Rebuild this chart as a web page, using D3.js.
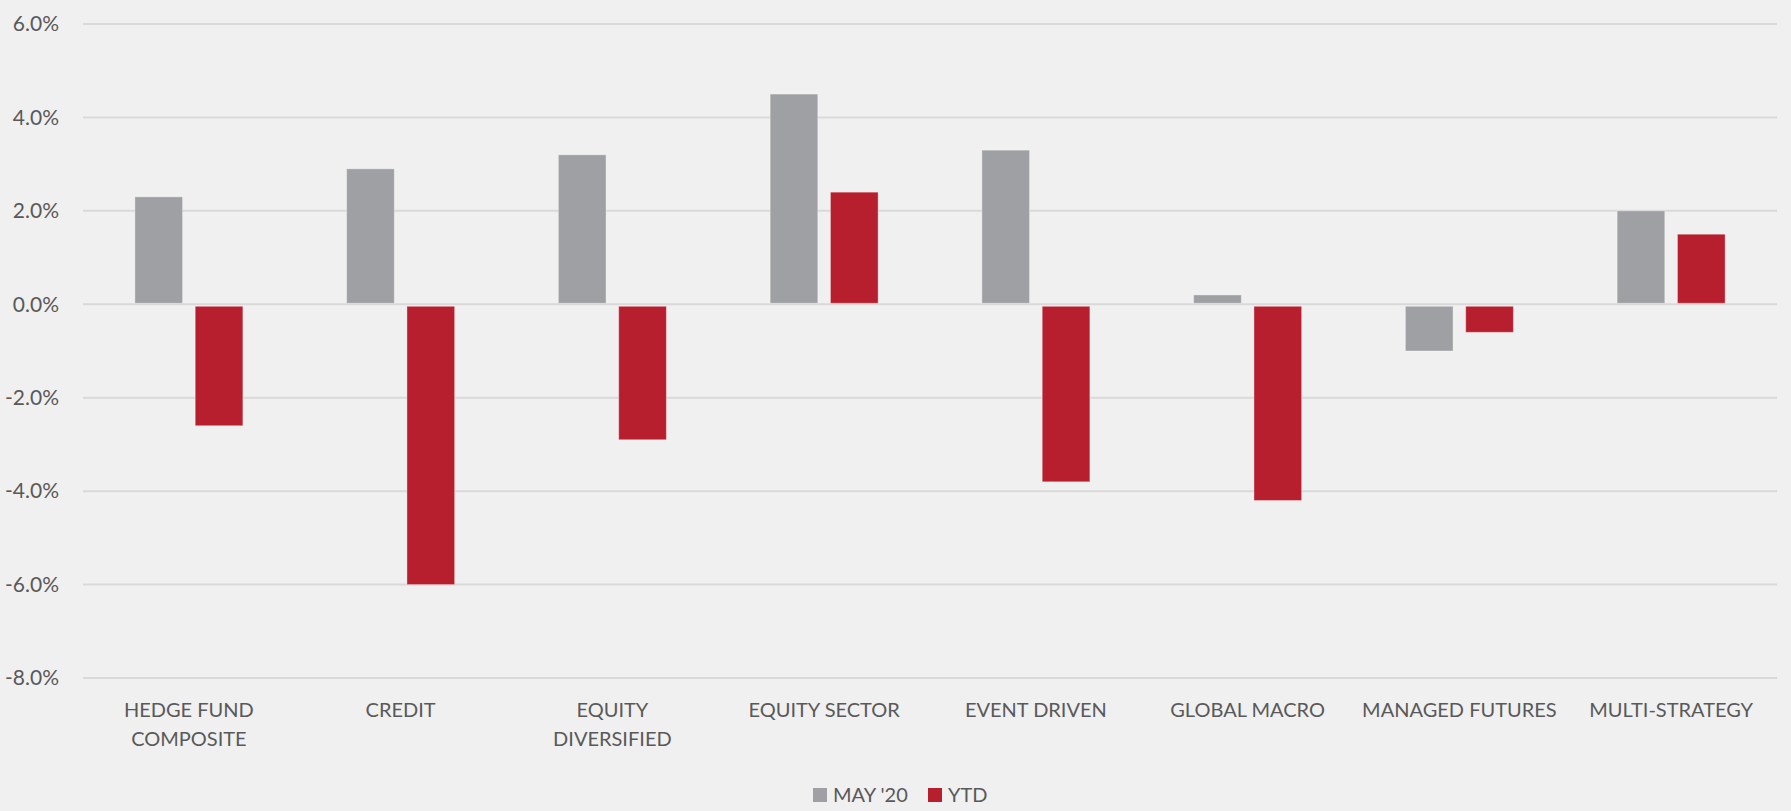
<!DOCTYPE html>
<html>
<head>
<meta charset="utf-8">
<script src="https://cdn.jsdelivr.net/npm/d3@7"></script>
<style>
  body { margin: 0; background: #f0f0f0; }
  svg { display: block; font-family: "Source Sans Pro", Lato, sans-serif; }
</style>
</head>
<body>
<div id="chart"></div>
<script>
const categories = [
  ["HEDGE FUND", "COMPOSITE"],
  ["CREDIT"],
  ["EQUITY", "DIVERSIFIED"],
  ["EQUITY SECTOR"],
  ["EVENT DRIVEN"],
  ["GLOBAL MACRO"],
  ["MANAGED FUTURES"],
  ["MULTI-STRATEGY"]
];
const seriesNames = ["MAY '20", "YTD"];
const mayValues = [2.3, 2.9, 3.2, 4.5, 3.3, 0.2, -1.0, 2.0];
const ytdValues = [-2.6, -6.0, -2.9, 2.4, -3.8, -4.2, -0.6, 1.5];
const yTicks = [-8, -6, -4, -2, 0, 2, 4, 6];

const width = 1791;
const height = 811;
const margin = { top: 24, right: 14, bottom: 133, left: 83 };
const colors = ["#9fa0a3", "#b71f2e"];

const svg = d3.select("#chart")
  .append("svg")
  .attr("width", width)
  .attr("height", height);

svg.append("rect")
  .attr("width", width)
  .attr("height", height)
  .attr("fill", "#f0f0f0");

const keys = categories.map((c, i) => i);
const x0 = d3.scaleBand()
  .domain(keys)
  .range([margin.left, width - margin.right]);

const x1 = d3.scaleBand()
  .domain(seriesNames)
  .range([0, x0.bandwidth()])
  .paddingInner(0.21)
  .paddingOuter(0.86);

const y = d3.scaleLinear()
  .domain([-8, 6])
  .range([height - margin.bottom, margin.top]);

// gridlines
svg.append("g")
  .selectAll("line")
  .data(yTicks)
  .join("line")
  .attr("x1", margin.left)
  .attr("x2", width - margin.right)
  .attr("y1", d => y(d))
  .attr("y2", d => y(d))
  .attr("stroke", "#d9d9d9")
  .attr("stroke-width", 2);

// y axis labels (plain hyphen for negatives, like the original)
const fmt = d => d.toFixed(1) + "%";
const yAxis = svg.append("g")
  .attr("transform", `translate(${margin.left - 24},0)`)
  .call(d3.axisLeft(y).tickValues(yTicks).tickSize(0).tickFormat(fmt));
yAxis.select(".domain").remove();
yAxis.selectAll("text")
  .attr("x", 0)
  .attr("fill", "#595959")
  .style("font-size", "21px")
  .style("font-family", "\"Source Sans Pro\", Lato, sans-serif");

// bars
const rows = keys.map(i => ({ i, vals: [mayValues[i], ytdValues[i]] }));

const groups = svg.append("g")
  .selectAll("g")
  .data(rows)
  .join("g")
  .attr("transform", d => `translate(${x0(d.i)},0)`);

groups.selectAll("rect")
  .data(d => d.vals.map((v, j) => ({ key: seriesNames[j], v, j })))
  .join("rect")
  .attr("x", d => x1(d.key))
  .attr("width", x1.bandwidth())
  .attr("y", d => d.v >= 0 ? y(d.v) : y(0) + 2)
  .attr("height", d => d.v >= 0 ? y(0) - y(d.v) - 1 : y(d.v) - y(0) - 2)
  .attr("fill", d => colors[d.j])
  .attr("stroke", "rgba(255,255,255,0.35)")
  .attr("stroke-width", 1);

// x labels
const xLabels = svg.append("g")
  .selectAll("text")
  .data(rows)
  .join("text")
  .attr("x", d => x0(d.i) + x0.bandwidth() / 2)
  .attr("y", 717)
  .attr("text-anchor", "middle")
  .attr("fill", "#595959")
  .style("font-size", "20px");

xLabels.selectAll("tspan")
  .data(d => categories[d.i])
  .join("tspan")
  .attr("x", function () { return d3.select(this.parentNode).attr("x"); })
  .attr("dy", (d, k) => k === 0 ? 0 : 29)
  .text(d => d);

// legend
const legend = svg.append("g");
const legendX = [813, 928];
seriesNames.forEach((name, j) => {
  legend.append("rect")
    .attr("x", legendX[j])
    .attr("y", 788)
    .attr("width", 14)
    .attr("height", 14)
    .attr("fill", colors[j]);
  legend.append("text")
    .attr("x", legendX[j] + 20)
    .attr("y", 802)
    .attr("fill", "#595959")
    .style("font-size", "20px")
    .text(name);
});
</script>
</body>
</html>
